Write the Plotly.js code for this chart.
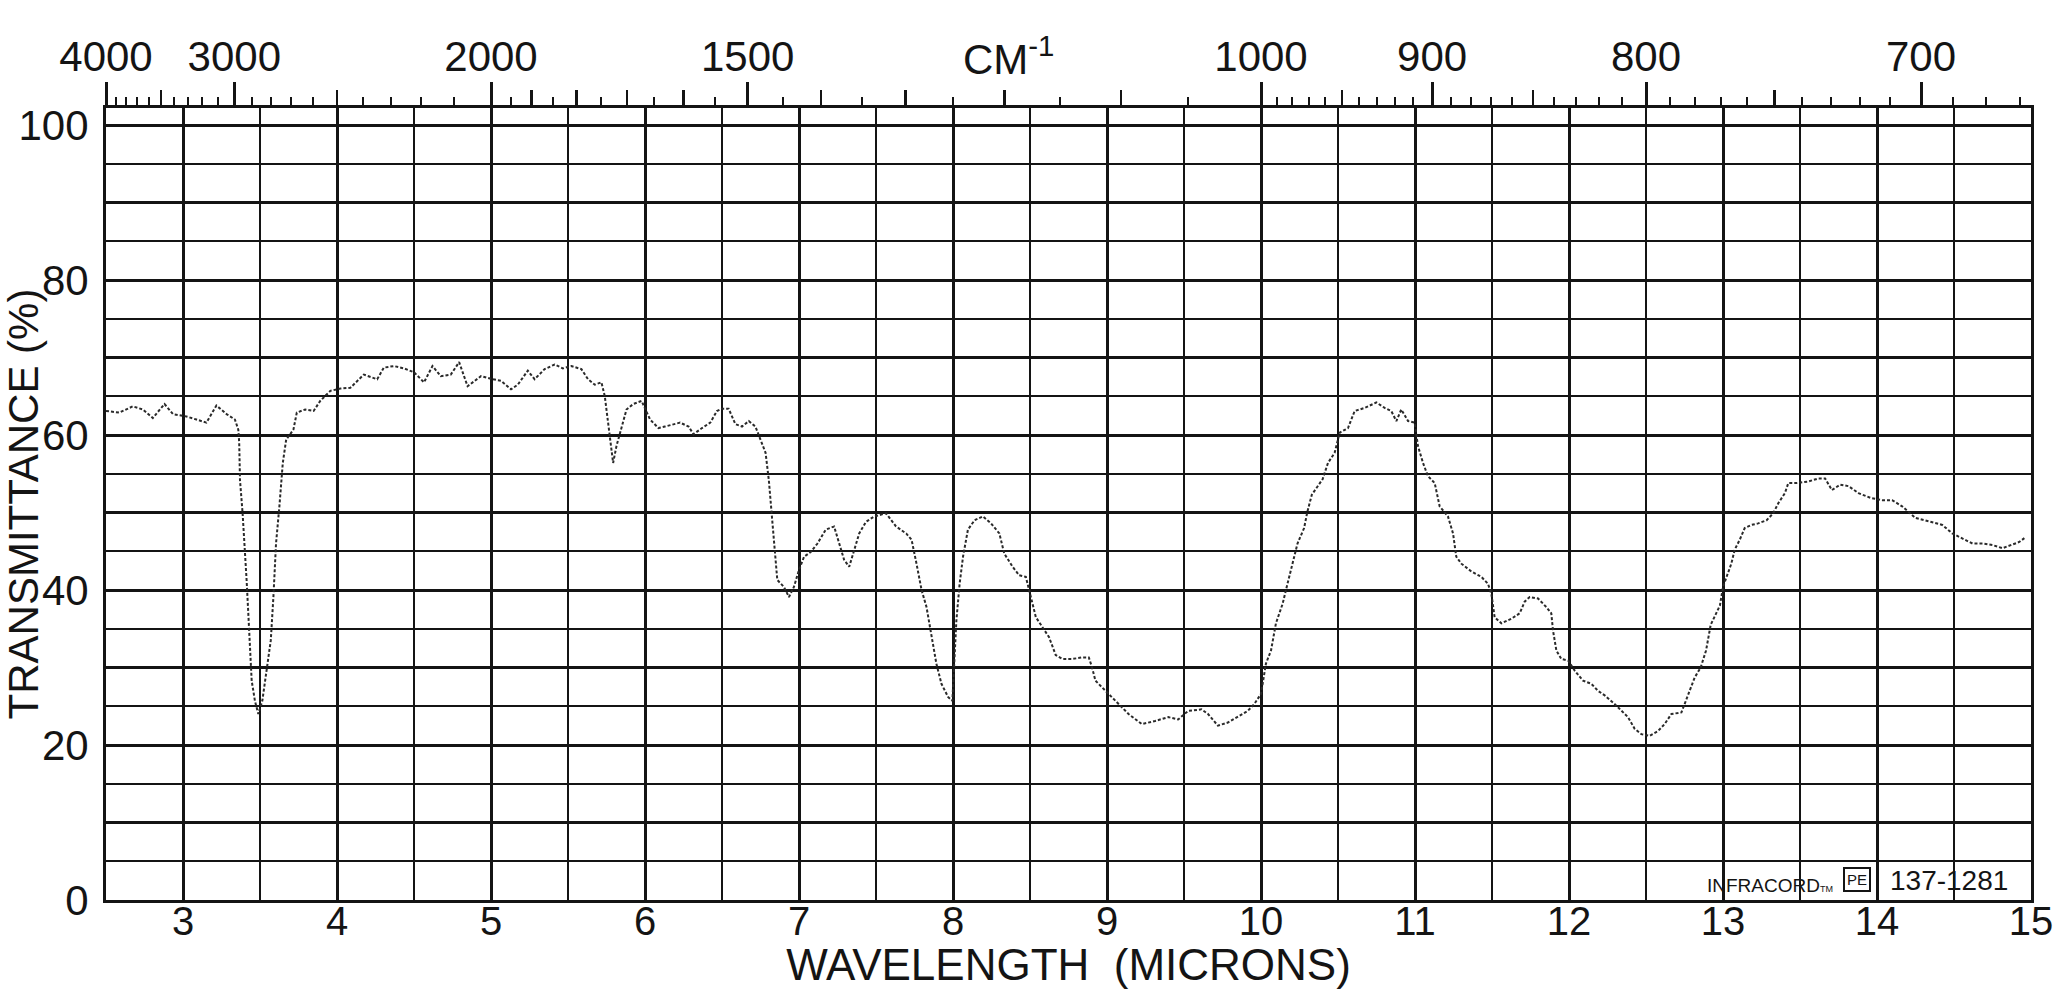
<!DOCTYPE html>
<html>
<head>
<meta charset="utf-8">
<script src="https://cdn.plot.ly/plotly-3.0.1.min.js"></script>
<style>html,body{margin:0;padding:0;background:#fff;}#chart{width:2055px;height:989px;}</style>
</head>
<body>
<div id="chart"></div>
<script>
// Wavelength (microns) of the recorded trace
const wavelengthUm = [
  2.500,2.587,2.674,2.739,2.804,2.880,2.935,3.022,3.087,3.152,3.217,3.283,3.337,3.359,3.365,3.370,3.387,3.402,3.413,3.424,
  3.435,3.446,3.467,3.489,3.515,3.543,3.570,3.587,3.604,3.626,3.648,3.670,3.717,3.739,3.793,3.848,3.891,3.957,4.022,4.087,
  4.174,4.261,4.304,4.370,4.435,4.500,4.565,4.620,4.674,4.739,4.793,4.848,4.935,5.011,5.065,5.130,5.174,5.239,5.283,5.348,
  5.413,5.467,5.522,5.587,5.630,5.674,5.717,5.739,5.761,5.783,5.793,5.815,5.848,5.880,5.924,5.978,6.033,6.087,6.130,6.185,
  6.228,6.283,6.315,6.370,6.424,6.467,6.500,6.543,6.587,6.630,6.674,6.717,6.750,6.783,6.804,6.822,6.837,6.848,6.859,6.902,
  6.935,6.967,7.000,7.033,7.076,7.120,7.174,7.228,7.261,7.293,7.326,7.359,7.391,7.435,7.489,7.565,7.630,7.696,7.731,7.763,
  7.796,7.828,7.860,7.892,7.925,7.968,7.996,8.022,8.043,8.065,8.097,8.140,8.194,8.247,8.301,8.333,8.387,8.430,8.473,8.505,
  8.538,8.581,8.624,8.667,8.710,8.774,8.839,8.882,8.903,8.925,8.989,9.054,9.140,9.226,9.312,9.398,9.462,9.527,9.613,9.656,
  9.720,9.785,9.849,9.914,9.957,10.000,10.032,10.065,10.097,10.140,10.172,10.204,10.237,10.280,10.300,10.330,10.370,10.400,10.435,10.478,
  10.511,10.565,10.608,10.673,10.749,10.803,10.846,10.879,10.911,10.955,10.998,11.019,11.052,11.084,11.128,11.160,11.214,11.247,11.268,11.301,
  11.366,11.431,11.474,11.496,11.517,11.561,11.626,11.680,11.712,11.745,11.799,11.853,11.885,11.896,11.918,11.950,11.994,12.037,12.091,12.145,
  12.188,12.232,12.296,12.340,12.383,12.426,12.470,12.524,12.578,12.621,12.665,12.730,12.773,12.816,12.855,12.890,12.920,12.950,12.980,13.000,
  13.033,13.054,13.076,13.109,13.141,13.185,13.228,13.283,13.326,13.359,13.402,13.424,13.478,13.554,13.620,13.663,13.707,13.761,13.815,13.880,
  13.957,14.033,14.098,14.163,14.250,14.337,14.424,14.489,14.565,14.620,14.685,14.750,14.815,14.870,14.924,14.957
];
// Transmittance (%)
const transmittancePct = [
  63.1,62.9,63.7,63.3,62.2,64.0,62.7,62.4,62.0,61.6,63.8,62.7,62.0,60.7,59.0,54.2,49.9,45.6,41.3,37.0,
  32.6,28.3,25.7,24.0,25.7,30.0,33.5,39.1,46.0,50.8,56.4,59.4,60.7,62.9,63.3,63.1,64.4,65.7,66.0,66.1,
  67.8,67.2,68.7,68.9,68.6,68.1,66.8,68.9,67.6,67.8,69.4,66.3,67.6,67.2,67.0,65.9,66.5,68.3,67.2,68.5,
  69.1,68.6,68.9,68.5,67.2,66.5,66.8,65.0,61.6,58.1,56.4,58.6,61.1,63.3,64.0,64.4,62.0,60.9,61.1,61.4,
  61.6,61.1,60.1,60.9,61.6,63.1,63.4,63.4,61.4,61.1,61.8,61.1,59.4,57.7,54.2,49.9,46.9,43.4,41.3,40.4,
  39.1,40.4,42.6,44.3,44.9,46.0,47.8,48.2,46.0,43.9,43.0,45.2,47.3,48.8,49.5,49.9,48.2,47.3,46.5,43.4,
  40.0,37.8,33.9,30.5,27.9,26.2,25.7,36.1,40.8,44.3,47.8,49.0,49.5,48.6,47.3,44.7,43.0,41.9,41.7,39.1,
  36.5,35.2,33.9,31.6,31.1,31.1,31.3,31.3,30.0,28.3,27.0,25.7,24.0,22.7,23.1,23.6,23.3,24.4,24.6,24.0,
  22.5,22.9,23.6,24.4,25.3,26.6,30.5,32.2,35.7,38.2,40.8,43.4,46.0,48.0,50.0,52.3,53.5,54.3,56.4,57.7,
  60.3,60.9,63.1,63.5,64.2,63.5,63.1,61.8,63.3,61.8,61.6,58.6,56.4,54.7,53.8,50.8,49.5,47.3,44.3,43.4,
  42.4,41.7,40.8,39.5,36.5,35.7,36.3,37.0,38.5,39.1,38.9,37.8,37.0,34.8,32.2,31.1,30.9,29.6,28.3,27.9,
  27.0,26.4,25.3,24.4,23.6,22.1,21.4,21.2,21.8,22.7,24.0,24.2,26.4,28.7,30.0,32.2,35.5,36.8,38.0,40.4,
  42.1,43.4,45.2,46.5,48.0,48.4,48.6,49.0,49.9,51.2,52.5,53.8,53.8,54.0,54.4,54.4,52.9,53.6,53.4,52.5,
  51.9,51.6,51.6,50.8,49.3,48.8,48.4,47.3,46.5,46.0,46.0,45.8,45.4,45.8,46.2,46.7
];

// Bottom axis: wavelength tick labels (microns)
const micronTicks = [3,4,5,6,7,8,9,10,11,12,13,14,15];
// Left axis: transmittance grid / labels
const transmittanceTicks = [0,10,20,30,40,50,60,70,80,90,100];
const transmittanceLabels = ['0',' ','20',' ','40',' ','60',' ','80',' ','100'];
// Top axis: wavenumber (cm-1) ticks
const wavenumberLabelled = [4000,3000,2000,1500,1000,900,800,700];
const wavenumberMedium = [3500,2500,1900,1800,1700,1600,1400,1300,1200,1100,950,850,750];
const wavenumberSmall = [
  3900,3800,3700,3600,3400,3300,3200,3100,
  2900,2800,2700,2600,2400,2300,2200,2100,
  1950,1850,1750,1650,1550,1450,1350,1250,1150,1050,
  990,980,970,960,940,930,920,910,
  890,880,870,860,840,830,820,810,
  790,780,770,760,740,730,720,710,
  690,680,670
];

const toMicron = wn => 1e4 / wn;
const posLabelled = wavenumberLabelled.map(toMicron);
const posMedium = wavenumberMedium.map(toMicron);
const posSmall = wavenumberSmall.map(toMicron);

const INK = '#141414';
const FONT = 'Liberation Sans, Arial, sans-serif';

const traces = [
  {
    x: wavelengthUm, y: transmittancePct, type: 'scatter', mode: 'lines',
    line: {color: '#2a2a2a', width: 2, dash: '3px,2px'},
    hoverinfo: 'x+y', xaxis: 'x', yaxis: 'y'
  },
  { x: posLabelled, y: posLabelled.map(() => null), type: 'scatter', mode: 'markers',
    marker: {size: 0, opacity: 0}, hoverinfo: 'skip', xaxis: 'x2', yaxis: 'y' },
  { x: posMedium, y: posMedium.map(() => null), type: 'scatter', mode: 'markers',
    marker: {size: 0, opacity: 0}, hoverinfo: 'skip', xaxis: 'x3', yaxis: 'y' }
];

const layout = {
  width: 2055, height: 989,
  margin: {l: 106, r: 24, t: 108, b: 89, pad: 0},
  paper_bgcolor: '#ffffff', plot_bgcolor: '#ffffff',
  showlegend: false,
  font: {family: FONT, color: INK, size: 42},
  xaxis: {
    range: [2.5, 15], tickmode: 'array', tickvals: micronTicks, ticktext: micronTicks.map(String),
    ticks: '', ticklabelstandoff: -16, tickfont: {size: 40, family: FONT, color: INK},
    showgrid: true, gridcolor: INK, gridwidth: 3,
    minor: {tick0: 2.5, dtick: 0.5, showgrid: true, gridcolor: INK, gridwidth: 2, ticks: ''},
    showline: true, linecolor: INK, linewidth: 3, mirror: true, zeroline: false,
    title: {text: 'WAVELENGTH\u00a0\u00a0(MICRONS)', font: {size: 44, family: FONT, color: INK}, standoff: 19},
    fixedrange: true
  },
  xaxis2: {
    overlaying: 'x', anchor: 'y', side: 'top', range: [2.5, 15],
    tickmode: 'array', tickvals: posLabelled, ticktext: wavenumberLabelled.map(String),
    ticks: 'outside', ticklen: 25, tickwidth: 3, tickcolor: INK,
    ticklabelstandoff: -6, tickfont: {size: 42, family: FONT, color: INK},
    minor: {tickmode: 'array', tickvals: posSmall, ticks: 'outside', ticklen: 10, tickwidth: 2, tickcolor: INK, showgrid: false},
    showgrid: false, showline: false, zeroline: false, fixedrange: true
  },
  xaxis3: {
    overlaying: 'x', anchor: 'y', side: 'top', range: [2.5, 15],
    tickmode: 'array', tickvals: posMedium, showticklabels: false,
    ticks: 'outside', ticklen: 17, tickwidth: 2.5, tickcolor: INK,
    showgrid: false, showline: false, zeroline: false, fixedrange: true
  },
  yaxis: {
    range: [0, 102.2], tickmode: 'array', tickvals: transmittanceTicks, ticktext: transmittanceLabels,
    ticks: '', ticklabelstandoff: 6, tickfont: {size: 42, family: FONT, color: INK},
    showgrid: true, gridcolor: INK, gridwidth: 3,
    minor: {tick0: 0, dtick: 5, showgrid: true, gridcolor: INK, gridwidth: 2, ticks: ''},
    showline: true, linecolor: INK, linewidth: 3, mirror: true, zeroline: false,
    title: {text: 'TRANSMITTANCE\u00a0(%)', font: {size: 42, family: FONT, color: INK}},
    fixedrange: true
  },
  annotations: [
    {text: 'CM<sup>-1</sup>', xref: 'x', yref: 'paper', x: 8.36, y: 1.066,
     xanchor: 'center', yanchor: 'middle', showarrow: false, font: {size: 42, family: FONT, color: INK}},
    {text: 'INFRACORD<span style="font-size:9px">TM</span>', xref: 'x', yref: 'paper', x: 12.88, y: 0.003,
     xanchor: 'left', yanchor: 'bottom', showarrow: false, font: {size: 19, family: FONT, color: INK}},
    {text: 'PE', xref: 'x', yref: 'paper', x: 13.87, y: 0.010,
     xanchor: 'center', yanchor: 'bottom', showarrow: false, bordercolor: INK, borderwidth: 2, borderpad: 2,
     font: {size: 15, family: FONT, color: INK}},
    {text: '137-1281', xref: 'x', yref: 'paper', x: 14.07, y: 0.002,
     xanchor: 'left', yanchor: 'bottom', showarrow: false, font: {size: 28, family: FONT, color: INK}}
  ]
};

Plotly.newPlot('chart', traces, layout, {staticPlot: true, displayModeBar: false});
</script>
</body>
</html>
